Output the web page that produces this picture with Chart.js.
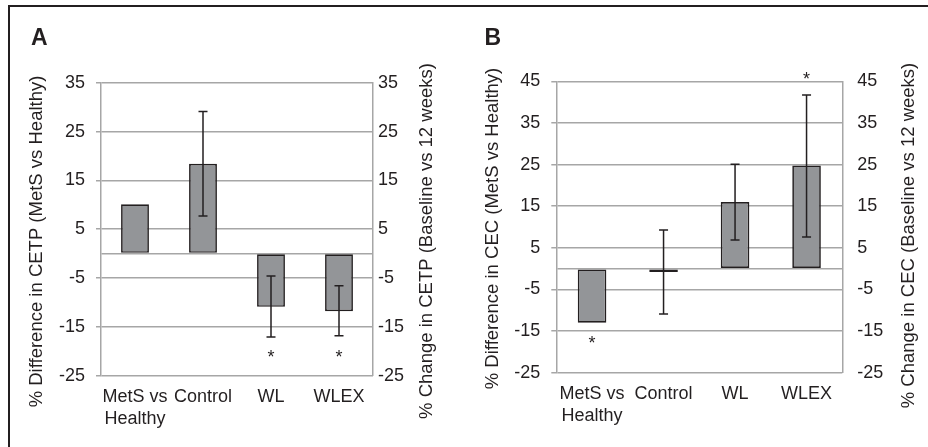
<!DOCTYPE html>
<html lang="en">
<head>
<meta charset="UTF-8">
<title>CETP and CEC</title>
<script src="https://cdn.jsdelivr.net/npm/chart.js"></script>
<style>
  body { margin: 0; background: #fff; width: 928px; height: 447px; overflow: hidden; position: relative; }
  .frame { position: absolute; left: 8px; top: 5px; width: 1000px; height: 1000px;
           border-top: 2px solid #231f20; border-left: 2px solid #231f20; }
  canvas { position: absolute; top: 0; }
  #chartA { left: 0; }
  #chartB { left: 464px; }
</style>
</head>
<body>
<div class="frame"></div>
<canvas id="chartA" width="464" height="447"></canvas>
<canvas id="chartB" width="464" height="447"></canvas>
<script>
const groups = [['MetS vs', 'Healthy'], 'Control', 'WL', 'WLEX'];

// panel A - CETP
const cetpValues = [10.1, 18.4, -10.9, -11.8];
const cetpErrLow = [null, 7.7, -17.1, -16.8];
const cetpErrHigh = [null, 29.1, -4.6, -6.6];
const cetpStars = [null, null, -20.3, -20.3];
const cetpTicks = [-25, -15, -5, 5, 15, 25, 35];

// panel B - CEC
const cecValues = [-13.0, -0.8, 16.0, 24.8];
const cecErrLow = [null, -10.9, 6.9, 7.6];
const cecErrHigh = [null, 9.3, 25.1, 41.7];
const cecStars = [-16.9, null, null, 46.5];
const cecTicks = [-25, -15, -5, 5, 15, 25, 35, 45];

const ink = '#231f20';
const gridGray = '#a6a6a6';
const fontFamily = '"Liberation Sans", Arial, sans-serif';

// error bars, asterisks, rotated axis titles and panel letter
const extras = {
  id: 'extras',
  afterDatasetsDraw(chart, args, o) {
    const ctx = chart.ctx, xs = chart.scales.x, ys = chart.scales.y;
    ctx.save();
    ctx.strokeStyle = ink;
    ctx.lineWidth = 1.5;
    o.low.forEach((lo, i) => {
      if (lo == null) return;
      const px = xs.getPixelForValue(i);
      const y1 = ys.getPixelForValue(lo), y2 = ys.getPixelForValue(o.high[i]);
      ctx.beginPath();
      ctx.moveTo(px, y1); ctx.lineTo(px, y2);
      ctx.moveTo(px - 4.5, y1); ctx.lineTo(px + 4.5, y1);
      ctx.moveTo(px - 4.5, y2); ctx.lineTo(px + 4.5, y2);
      ctx.stroke();
    });
    ctx.fillStyle = ink;
    ctx.font = '18px ' + fontFamily;
    ctx.textAlign = 'center';
    ctx.textBaseline = 'alphabetic';
    o.stars.forEach((s, i) => {
      if (s == null) return;
      ctx.fillText('*', xs.getPixelForValue(i), ys.getPixelForValue(s) + 10);
    });
    // axis titles, both reading upwards
    ctx.font = '18.5px ' + fontFamily;
    ctx.textBaseline = 'middle';
    [[o.leftTitle, o.leftX, o.leftY], [o.rightTitle, o.rightX, o.rightY]].forEach(t => {
      ctx.save();
      ctx.translate(t[1], t[2]);
      ctx.rotate(-Math.PI / 2);
      ctx.fillText(t[0], 0, 0);
      ctx.restore();
    });
    ctx.font = 'bold 23px ' + fontFamily;
    ctx.textAlign = 'left';
    ctx.textBaseline = 'alphabetic';
    ctx.fillText(o.letter, o.letterX, o.letterY);
    ctx.restore();
  }
};

function makePanel(id, values, tickVals, p) {
  const yTicks = tickVals.concat([0]).sort((a, b) => a - b);
  return new Chart(document.getElementById(id), {
    type: 'bar',
    data: {
      labels: groups,
      datasets: [{
        data: values,
        backgroundColor: '#939598',
        borderColor: ink,
        borderWidth: 1.7,
        borderSkipped: false,
        barPercentage: p.barPct,
        categoryPercentage: 1
      }]
    },
    plugins: [extras],
    options: {
      responsive: false,
      animation: false,
      devicePixelRatio: 1,
      layout: { padding: { top: p.top, bottom: 0, left: 0, right: 0 } },
      plugins: {
        legend: { display: false },
        tooltip: { enabled: false },
        extras: p.extras
      },
      scales: {
        x: {
          grid: { display: false, drawTicks: false },
          border: { display: false },
          ticks: { color: ink, font: { family: fontFamily, size: 18, lineHeight: 1.22 }, padding: 10, maxRotation: 0, autoSkip: false },
          afterFit: s => { s.height = p.xHeight; }
        },
        y: {
          position: 'left',
          min: tickVals[0], max: tickVals[tickVals.length - 1],
          afterBuildTicks: s => { s.ticks = yTicks.map(v => ({ value: v })); },
          grid: {
            color: gridGray, lineWidth: 1.5, tickLength: 5,
            tickColor: c => (c.tick && c.tick.value === 0) ? 'rgba(0,0,0,0)' : gridGray
          },
          border: { display: true, color: gridGray, width: 1.5 },
          ticks: { color: ink, font: { family: fontFamily, size: 18 }, padding: 11,
                   callback: v => v === 0 ? '' : v },
          afterFit: s => { s.width = p.yWidth; }
        },
        y2: {
          position: 'right',
          min: tickVals[0], max: tickVals[tickVals.length - 1],
          afterBuildTicks: s => { s.ticks = tickVals.map(v => ({ value: v })); },
          grid: { drawOnChartArea: false, drawTicks: false },
          border: { display: true, color: gridGray, width: 1.5 },
          ticks: { color: ink, font: { family: fontFamily, size: 18 }, padding: p.y2Pad },
          afterFit: s => { s.width = p.y2Width; }
        }
      }
    }
  });
}

makePanel('chartA', cetpValues, cetpTicks, {
  barPct: 0.41, top: 82.7, xHeight: 71.3, yWidth: 101, y2Width: 91, y2Pad: 5,
  extras: {
    low: cetpErrLow, high: cetpErrHigh, stars: cetpStars,
    leftTitle: '% Difference in CETP (MetS vs Healthy)', leftX: 37, leftY: 241.5,
    rightTitle: '% Change in CETP (Baseline vs 12 weeks)', rightX: 427, rightY: 241,
    letter: 'A', letterX: 31, letterY: 45
  }
});

makePanel('chartB', cecValues, cecTicks, {
  barPct: 0.40, top: 81.3, xHeight: 74.3, yWidth: 92.3, y2Width: 85.7, y2Pad: 15,
  extras: {
    low: cecErrLow, high: cecErrHigh, stars: cecStars,
    leftTitle: '% Difference in CEC (MetS vs Healthy)', leftX: 28.5, leftY: 228.5,
    rightTitle: '% Change in CEC (Baseline vs 12 weeks)', rightX: 445, rightY: 235.5,
    letter: 'B', letterX: 20.5, letterY: 45
  }
});
</script>
</body>
</html>
